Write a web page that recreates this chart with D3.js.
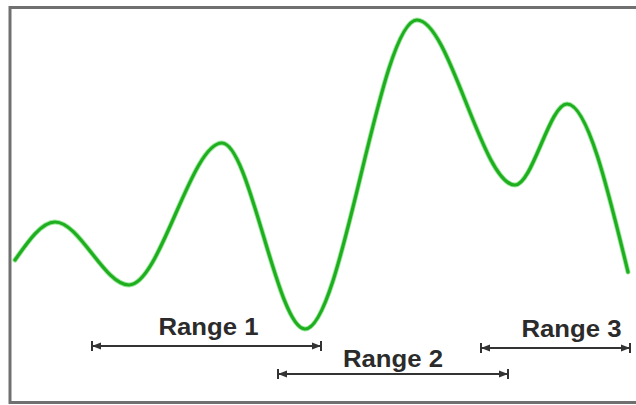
<!DOCTYPE html>
<html>
<head>
<meta charset="utf-8">
<script src="https://cdn.jsdelivr.net/npm/d3@7"></script>
<style>
  html, body { margin: 0; padding: 0; background: #fff; }
  svg { display: block; }
</style>
</head>
<body>
<svg id="chart" width="636" height="405"></svg>
<script>
// ---- data ----
const signalX = [5, 45, 119, 212, 295, 407, 505, 557, 618];
const signalY = [142, 180, 117, 259, 73, 382, 217, 298, 130];
const rangeLabels = ["Range 1", "Range 2", "Range 3"];
const rangeStarts = [82, 268, 471];
const rangeEnds   = [311, 498, 620];

// ---- layout ----
const svg = d3.select("#chart");
const x = d3.scaleLinear().domain([0, 626]).range([10, 636]);
const y = d3.scaleLinear().domain([0, 394]).range([402, 8]);
const bracketY = [346, 374, 348];
const labelY = [335, 367, 337];
const labelShift = [2, 0, 16];

// frame
svg.append("rect")
  .attr("x", 10).attr("y", 7.5)
  .attr("width", 640).attr("height", 395)
  .attr("fill", "#fff")
  .attr("stroke", "#707070").attr("stroke-width", 3);

// signal curve
const pts = signalX.map((d, i) => [d, signalY[i]]);
const line = d3.line().x(d => x(d[0])).y(d => y(d[1])).curve(d3.curveMonotoneX);
svg.append("path")
  .attr("d", line(pts))
  .attr("fill", "none")
  .attr("stroke", "#9be89b").attr("stroke-width", 5)
  .attr("stroke-linecap", "round");
svg.append("path")
  .attr("d", line(pts))
  .attr("fill", "none")
  .attr("stroke", "#1fae1f").attr("stroke-width", 3.2)
  .attr("stroke-linecap", "round");

// range brackets
const col = "#333";
rangeLabels.forEach((lab, i) => {
  const x0 = x(rangeStarts[i]), x1 = x(rangeEnds[i]), yy = bracketY[i];
  const g = svg.append("g");
  g.append("line").attr("x1", x0).attr("x2", x1).attr("y1", yy).attr("y2", yy)
    .attr("stroke", col).attr("stroke-width", 2);
  [x0, x1].forEach((xe, k) => {
    g.append("line").attr("x1", xe).attr("x2", xe).attr("y1", yy - 5).attr("y2", yy + 5)
      .attr("stroke", col).attr("stroke-width", 2);
    const dir = k === 0 ? 1 : -1;
    g.append("path")
      .attr("d", `M${xe},${yy} L${xe + dir * 9},${yy - 3.5} L${xe + dir * 9},${yy + 3.5} Z`)
      .attr("fill", col);
  });
  g.append("text")
    .attr("x", (x0 + x1) / 2 + labelShift[i])
    .attr("y", labelY[i])
    .attr("text-anchor", "middle")
    .attr("font-family", "Liberation Sans, Arial, sans-serif")
    .attr("font-weight", "bold")
    .attr("font-size", 24)
    .attr("textLength", 100)
    .attr("lengthAdjust", "spacingAndGlyphs")
    .attr("fill", "#2b2b2b")
    .text(lab);
});
</script>
</body>
</html>
